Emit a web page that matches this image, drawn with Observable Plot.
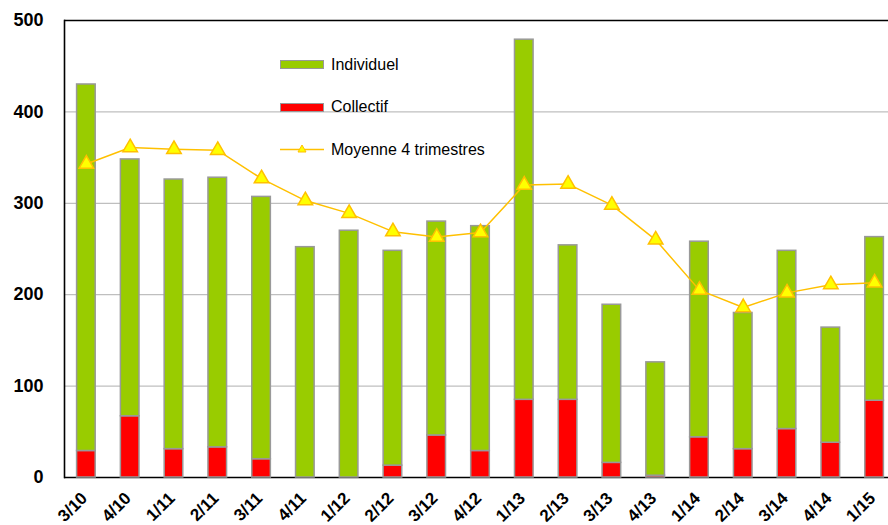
<!DOCTYPE html>
<html>
<head>
<meta charset="utf-8">
<script src="https://cdn.jsdelivr.net/npm/d3@7"></script>
<script src="https://cdn.jsdelivr.net/npm/@observablehq/plot@0.6"></script>
<style>
  html, body { margin: 0; padding: 0; background: #fff; overflow: hidden; }
  #wrap { position: relative; width: 888px; height: 525px; overflow: hidden; font-family: "Liberation Sans", Arial, sans-serif; }
  .sw { position: absolute; box-sizing: border-box; }
  .lt { position: absolute; font-size: 16px; color: #000; line-height: 1; white-space: nowrap; }
</style>
</head>
<body>
<div id="wrap"></div>
<script>
const categories = ["3/10","4/10","1/11","2/11","3/11","4/11","1/12","2/12","3/12","4/12","1/13","2/13","3/13","4/13","1/14","2/14","3/14","4/14","1/15"];
const collectif  = [29, 67, 31, 33, 20, 0, 0, 13, 46, 29, 85, 85, 16, 2, 44, 31, 53, 38, 84];
const individuel = [401, 281, 295, 295, 287, 252, 270, 235, 234, 246, 394, 169, 173, 124, 214, 149, 195, 126, 179];
const moyenne    = [343, 361, 359, 358, 327, 303, 289, 269, 263, 268, 320, 321, 298, 260, 205, 186, 202, 211, 213];
const yTicks = [0, 100, 200, 300, 400, 500];
const seriesNames = ["Collectif", "Individuel", "Moyenne 4 trimestres"];

const colGreen = "#99CC00", colRed = "#FF0000", colLine = "#FFC000", colTri = "#FFFF00";

const barRows = [];
categories.forEach((c, i) => {
  barRows.push({cat: c, series: seriesNames[0], value: collectif[i]});
  barRows.push({cat: c, series: seriesNames[1], value: individuel[i]});
});
const lineRows = categories.map((c, i) => ({cat: c, value: moyenne[i]}));

const chart = Plot.plot({
  width: 888,
  height: 525,
  marginLeft: 64,
  marginRight: 0,
  marginTop: 20,
  marginBottom: 48,
  style: {fontFamily: "'Liberation Sans', Arial, sans-serif", background: "#fff", maxWidth: "none", overflow: "hidden"},
  x: {domain: categories, range: [64, 896], paddingInner: 0.575, paddingOuter: 0.2875, round: false, label: null},
  y: {domain: [0, 500], label: null},
  color: {domain: [seriesNames[0], seriesNames[1]], range: [colRed, colGreen]},
  marks: [
    Plot.ruleY([100, 200, 300, 400], {stroke: "#BFBFBF", strokeWidth: 1.3}),
    Plot.ruleY([0, 500], {stroke: "#000", strokeWidth: 1.6}),
    Plot.frame({anchor: "left", stroke: "#000", strokeWidth: 1.6}),
    Plot.axisY({ticks: yTicks, tickSize: 0, tickPadding: 21, fontSize: 18, fontWeight: "bold", label: null}),
    Plot.axisX({tickSize: 0, tickRotate: -45, tickPadding: 17, fontSize: 17, fontWeight: "bold", label: null, dx: -2, dy: 1}),
    Plot.barY(barRows, Plot.stackY({x: "cat", y: "value", fill: "series", stroke: "#999999", strokeWidth: 1.5})),
    Plot.line(lineRows, {x: "cat", y: "value", stroke: colLine, strokeWidth: 1.5}),
    Plot.dot(lineRows, {x: "cat", y: "value", symbol: "triangle", r: 5.4, fill: colTri, stroke: colLine, strokeWidth: 1.5})
  ]
});

const wrap = document.getElementById("wrap");
wrap.appendChild(chart);

// Legend overlay
function add(html) { wrap.insertAdjacentHTML("beforeend", html); }
add(`<div class="sw" style="left:280px;top:60px;width:44px;height:9px;background:${colGreen};border:1.5px solid #999;"></div>`);
add(`<div class="lt" style="left:331px;top:57px;">${seriesNames[1]}</div>`);
add(`<div class="sw" style="left:280px;top:103px;width:44px;height:9px;background:${colRed};border:1.5px solid #999;"></div>`);
add(`<div class="lt" style="left:331px;top:99px;">${seriesNames[0]}</div>`);
add(`<svg style="position:absolute;left:280px;top:143px;" width="44" height="12"><line x1="0" y1="6.5" x2="44" y2="6.5" stroke="${colLine}" stroke-width="1.5"/><path d="M22,2 L26,9 L18,9 Z" fill="${colTri}" stroke="${colLine}" stroke-width="1"/></svg>`);
add(`<div class="lt" style="left:331px;top:142px;">${seriesNames[2]}</div>`);
</script>
</body>
</html>
